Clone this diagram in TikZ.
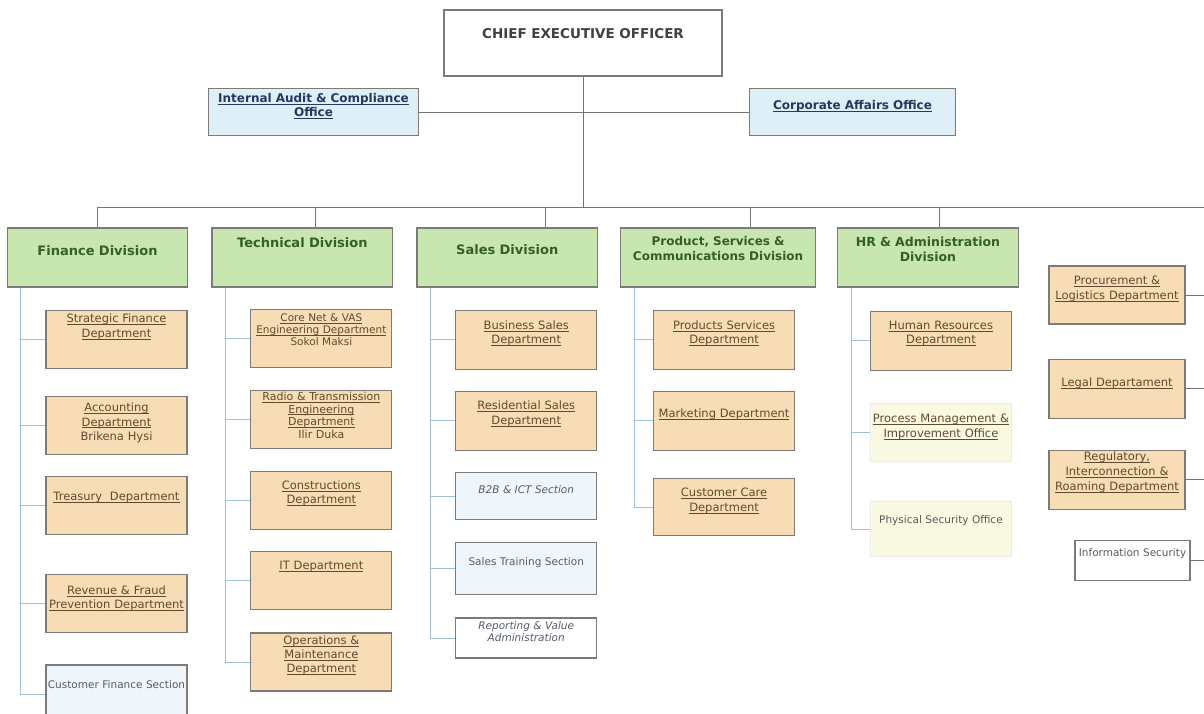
\documentclass[tikz,border=0pt]{standalone}
\usepackage{amsmath}
\usepackage{fontspec}
\setmainfont{DejaVu Sans}
\usetikzlibrary{positioning}

\newcommand{\uln}[1]{\underline{\smash[b]{#1}}}

\definecolor{deptfill}{RGB}{247,220,182}
\definecolor{divfill}{RGB}{200,230,176}
\definecolor{officefill}{RGB}{222,239,248}
\definecolor{secfill}{RGB}{238,246,252}
\definecolor{paleyellow}{RGB}{250,250,226}
\definecolor{boxgray}{RGB}{125,122,120}
\definecolor{linegray}{RGB}{115,115,115}
\definecolor{subblue}{RGB}{160,192,216}
\definecolor{divtext}{RGB}{52,96,40}
\definecolor{depttext}{RGB}{98,74,46}
\definecolor{officetext}{RGB}{38,56,92}
\definecolor{sectext}{RGB}{85,92,102}

\tikzset{
  ceobox/.style={draw=boxgray, line width=2.5pt, fill=white, minimum width=278pt, minimum height=66pt, text width=270pt, inner ysep=0pt, align=center, text depth=20pt, font=\bfseries\fontsize{13.5}{16}\selectfont, text=black!75},
  office/.style={draw=boxgray, line width=1.2pt, fill=officefill, minimum height=47pt, inner ysep=0pt, align=center, text depth=14.5pt, font=\bfseries\fontsize{12}{14}\selectfont, text=officetext},
  division/.style={draw=boxgray, line width=1.2pt, fill=divfill, minimum width=180pt, minimum height=59pt, text width=174pt, inner ysep=0pt, align=center, text depth=15.5pt, font=\bfseries\fontsize{13}{15}\selectfont, text=divtext},
  dept/.style={draw=boxgray, line width=1.2pt, fill=deptfill, minimum width=141pt, minimum height=58pt, text width=139pt, inner xsep=1pt, inner ysep=0pt, align=center, text depth=30pt, font=\fontsize{11.5}{14.5}\selectfont, text=depttext},
  section/.style={dept, fill=secfill, text=sectext, text depth=15pt, font=\fontsize{10.5}{12}\selectfont},
  paleoffice/.style={dept, draw=black!8, fill=paleyellow},
  orgline/.style={draw=linegray, line width=1pt},
  subline/.style={draw=subblue, line width=1pt}
}

\begin{document}
\begin{tikzpicture}[x=1pt,y=1pt]
        \path[use as bounding box, fill=white] (0,0) rectangle (1204,-713);
        \coordinate (busend) at (1204,-207);
        \coordinate (edge) at (1204,0);

        \node[ceobox] (ceo) at (583,-43) {CHIEF EXECUTIVE OFFICER};
        \node[office, minimum width=209pt, text width=203pt, text depth=27.5pt] (audit) at (313.5,-112) {\uln{Internal Audit \& Compliance}\\\uln{Office}};
        \node[office, minimum width=205pt, text width=199pt] (corp) at (852.5,-112) {\uln{Corporate Affairs Office}};

        %% Divisions
        \node[division, text depth=13.5pt] (fin) at (97.5,-257.5) {Finance Division};
        \node[division, right=23pt of fin, text depth=29.5pt] (tech) {Technical Division};
        \node[division, right=23pt of tech] (sales) {Sales Division};
        \node[division, right=22pt of sales, minimum width=194pt, text width=188pt, text depth=32.5pt, font=\bfseries\fontsize{12}{15}\selectfont] (prod) {Product, Services \&\\Communications Division};
        \node[division, right=21pt of prod, text depth=31pt, font=\bfseries\fontsize{12.5}{14.5}\selectfont] (hr) {HR \& Administration\\Division};

        %% Finance
        \node[dept, below=22pt of fin, xshift=19pt, text depth=42pt] (fin1) {\uln{Strategic Finance}\\\uln{Department}};
        \node[dept, below=27pt of fin1, text depth=36.5pt] (fin2) {\uln{Accounting}\\\uln{Department}\\Brikena Hysi};
        \node[dept, below=21pt of fin2, text depth=18.5pt] (fin3) {\uln{Treasury\ \ Department}};
        \node[dept, below=39pt of fin3, text depth=28pt] (fin4) {\uln{Revenue \& Fraud}\\\uln{Prevention Department}};
        \node[section, below=31pt of fin4, text depth=18.5pt] (fin5) {Customer Finance Section};

        %% Technical
        \node[dept, below=21pt of tech, xshift=19pt, text depth=40.5pt, font=\fontsize{10.5}{12}\selectfont] (tech1) {\uln{Core Net \& VAS}\\\uln{Engineering Department}\\Sokol Maksi};
        \node[dept, below=22pt of tech1, text depth=46pt, font=\fontsize{11}{12.5}\selectfont] (tech2) {\uln{Radio \& Transmission}\\\uln{Engineering}\\\uln{Department}\\Ilir Duka};
        \node[dept, below=22pt of tech2, text depth=31pt] (tech3) {\uln{Constructions}\\\uln{Department}};
        \node[dept, below=21pt of tech3, text depth=30.5pt] (tech4) {\uln{IT Department}};
        \node[dept, below=22pt of tech4, text depth=44.5pt, font=\fontsize{11.5}{14}\selectfont] (tech5) {\uln{Operations \&}\\\uln{Maintenance}\\\uln{Department}};

        %% Sales
        \node[dept, below=22pt of sales, xshift=19pt, minimum height=59pt] (sales1) {\uln{Business Sales}\\\uln{Department}};
        \node[dept, below=21pt of sales1, minimum height=59pt, text depth=31pt] (sales2) {\uln{Residential Sales}\\\uln{Department}};
        \node[section, below=21pt of sales2, minimum height=47pt, text depth=13.5pt, font=\itshape\fontsize{10.5}{12}\selectfont] (sales3) {B2B \& ICT Section};
        \node[section, below=22pt of sales3, minimum height=52pt, text depth=14.5pt] (sales4) {Sales Training Section};
        \node[section, below=22pt of sales4, minimum height=40pt, fill=white, text depth=24.5pt, font=\itshape\fontsize{10.5}{12}\selectfont] (sales5) {Reporting \& Value\\Administration};

        %% Product
        \node[dept, below=22pt of prod, xshift=6pt, minimum height=59pt] (prod1) {\uln{Products Services}\\\uln{Department}};
        \node[dept, below=21pt of prod1, minimum height=59pt, text depth=15.5pt] (prod2) {\uln{Marketing Department}};
        \node[dept, below=27pt of prod2, minimum height=57pt, text depth=29pt] (prod3) {\uln{Customer Care}\\\uln{Department}};

        %% HR
        \node[dept, below=23pt of hr, xshift=13pt, minimum height=59pt, text depth=31pt] (hr1) {\uln{Human Resources}\\\uln{Department}};
        \node[paleoffice, below=32pt of hr1, text depth=28pt] (hr2) {\uln{Process Management \&}\\\uln{Improvement Office}};
        \node[paleoffice, below=39pt of hr2, minimum height=55pt, text=black!65, text depth=19.5pt, font=\fontsize{10.5}{12}\selectfont] (hr3) {Physical Security Office};

        %% Right column
        \node[dept, minimum width=136pt, text width=134pt, text depth=29pt] (other1) at (1117,-295) {\uln{Procurement \&}\\\uln{Logistics Department}};
        \node[dept, below=34pt of other1, minimum width=136pt, text width=134pt, minimum height=59pt, text depth=13.5pt] (other2) {\uln{Legal Departament}};
        \node[dept, below=31pt of other2, minimum width=136pt, text width=134pt, minimum height=59pt, text depth=47.5pt, font=\fontsize{11.5}{15}\selectfont] (other3) {\uln{Regulatory,}\\\uln{Interconnection \&}\\\uln{Roaming Department}};
        \node[section, below=30pt of other3, xshift=15.5pt, minimum width=115pt, text width=113pt, minimum height=40pt, fill=white, text depth=15.5pt] (other4) {Information Security};

        %% Top lines
        \draw[orgline] (ceo.south) -- (ceo.south |- busend);
        \draw[orgline] (audit.east) -- (corp.west);
        \draw[orgline] (fin.north) |- (busend);
        \draw[orgline] ([xshift=13pt]tech.north) -- ([xshift=13pt]tech.north |- busend);
        \draw[orgline] ([xshift=38pt]sales.north) -- ([xshift=38pt]sales.north |- busend);
        \draw[orgline] ([xshift=32pt]prod.north) -- ([xshift=32pt]prod.north |- busend);
        \draw[orgline] ([xshift=12pt]hr.north) -- ([xshift=12pt]hr.north |- busend);

        %% Finance lines
        \draw[subline] ([xshift=-77.5pt]fin.south) |- (fin1.west);
        \draw[subline] ([xshift=-77.5pt]fin.south) |- (fin2.west);
        \draw[subline] ([xshift=-77.5pt]fin.south) |- (fin3.west);
        \draw[subline] ([xshift=-77.5pt]fin.south) |- (fin4.west);
        \draw[subline] ([xshift=-77.5pt]fin.south) |- (fin5.west);

        %% Technical lines
        \draw[subline] ([xshift=-77pt]tech.south) |- (tech1.west);
        \draw[subline] ([xshift=-77pt]tech.south) |- (tech2.west);
        \draw[subline] ([xshift=-77pt]tech.south) |- (tech3.west);
        \draw[subline] ([xshift=-77pt]tech.south) |- (tech4.west);
        \draw[subline] ([xshift=-77pt]tech.south) |- (tech5.west);

        %% Sales lines
        \draw[subline] ([xshift=-77pt]sales.south) |- (sales1.west);
        \draw[subline] ([xshift=-77pt]sales.south) |- (sales2.west);
        \draw[subline] ([xshift=-77pt]sales.south) |- (sales3.west);
        \draw[subline] ([xshift=-77pt]sales.south) |- (sales4.west);
        \draw[subline] ([xshift=-77pt]sales.south) |- (sales5.west);

        %% Product lines
        \draw[subline] ([xshift=-84pt]prod.south) |- (prod1.west);
        \draw[subline] ([xshift=-84pt]prod.south) |- (prod2.west);
        \draw[subline] ([xshift=-84pt]prod.south) |- (prod3.west);

        %% HR lines
        \draw[subline] ([xshift=-76pt]hr.south) |- (hr1.west);
        \draw[subline] ([xshift=-76pt]hr.south) |- (hr2.west);
        \draw[subline] ([xshift=-76pt]hr.south) |- (hr3.west);

        %% Right column lines
        \draw[orgline] (other1.east) -- (other1.east -| edge);
        \draw[orgline] (other2.east) -- (other2.east -| edge);
        \draw[orgline] (other3.east) -- (other3.east -| edge);
        \draw[orgline] (other4.east) -- (other4.east -| edge);
\end{tikzpicture}
\end{document}
